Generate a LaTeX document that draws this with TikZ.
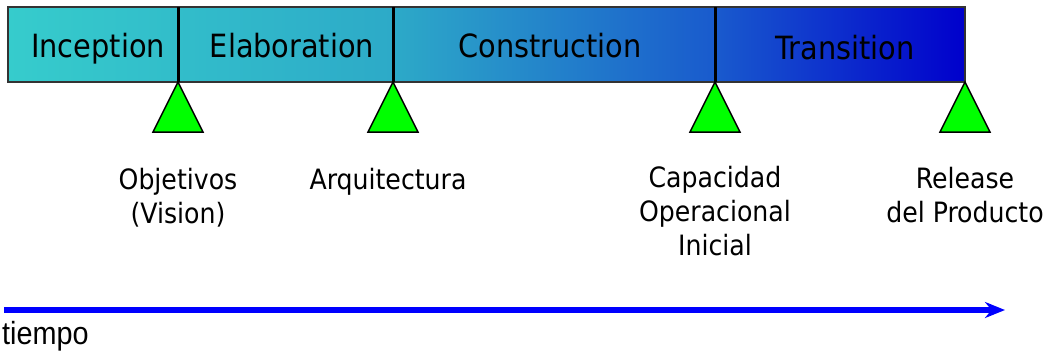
\documentclass[tikz,border=0pt]{standalone}
\usepackage{fontspec}
\setmainfont{DejaVu Sans Condensed}
\newfontfamily\narrowfont[FakeStretch=0.9]{Liberation Sans}
\usetikzlibrary{arrows.meta}

\pgfdeclarehorizontalshading{phasebar}{100bp}{rgb(0bp)=(0.212,0.8,0.8); rgb(25bp)=(0.212,0.8,0.8); rgb(45bp)=(0.176,0.667,0.784); rgb(62bp)=(0.098,0.353,0.804); rgb(75bp)=(0,0,0.8); rgb(100bp)=(0,0,0.8)}

\begin{document}
\begin{tikzpicture}[x=1pt, y=-1pt,
            phase_style/.style={font=\fontsize{32}{38}\selectfont, inner sep=0pt, anchor=base},
            label_style/.style={font=\fontsize{28}{34}\selectfont, align=center, inner sep=0pt, anchor=base},
            divider_style/.style={draw=black, line width=3pt},
            milestone_style/.style={draw=black, line width=1.5pt, fill={rgb,255:red,0;green,255;blue,0}, line join=miter},
            time_arrow/.style={draw={rgb,255:red,0;green,0;blue,255}, line width=6pt, -{Stealth[length=20pt,width=16pt]}}]
            \useasboundingbox (0,0) rectangle (1050,354);
            % barra de fases
            \shade[shading=phasebar] (8,7) rectangle (965,82);
            \draw[draw=black!80, line width=1.5pt] (8,7) rectangle (965,82);
            \node[phase_style] (p1) at (98,57) {Inception};
            \node[phase_style] (p2) at (292,57) {Elaboration};
            \node[phase_style] (p3) at (550,57) {Construction};
            \node[phase_style] (p4) at (845,59) {Transition};
            % hitos
            \coordinate (t1) at (178,7);
            \coordinate (t2) at (393,7);
            \coordinate (t3) at (715,7);
            \coordinate (m1) at (178,82);
            \coordinate (m2) at (393,82);
            \coordinate (m3) at (715,82);
            \coordinate (m4) at (965,82);
            \draw[divider_style] (t1) -- (m1);
            \draw[divider_style] (t2) -- (m2);
            \draw[divider_style] (t3) -- (m3);
            \draw[milestone_style] (m1) -- ++(-25,50) -- ++(50,0) -- cycle;
            \draw[milestone_style] (m2) -- ++(-25,50) -- ++(50,0) -- cycle;
            \draw[milestone_style] (m3) -- ++(-25,50) -- ++(50,0) -- cycle;
            \draw[milestone_style] (m4) -- ++(-25,50) -- ++(50,0) -- cycle;
            % textos bajo los hitos (base = ultima linea)
            \node[label_style] (l1) at (178,223) {Objetivos\\(Vision)};
            \node[label_style] (l2) at (388,189) {Arquitectura};
            \node[label_style] (l3) at (715,255) {Capacidad\\Operacional\\Inicial};
            \node[label_style] (l4) at (965,222) {Release\\del Producto};
            % tiempo
            \coordinate (ts) at (4,310);
            \coordinate (te) at (1005,310);
            \draw[time_arrow] (ts) -- (te);
            \node[font=\narrowfont\fontsize{32}{38}\selectfont, inner sep=0pt, anchor=base west] (tiempo) at (2,344) {tiempo};
        \end{tikzpicture}
\end{document}
